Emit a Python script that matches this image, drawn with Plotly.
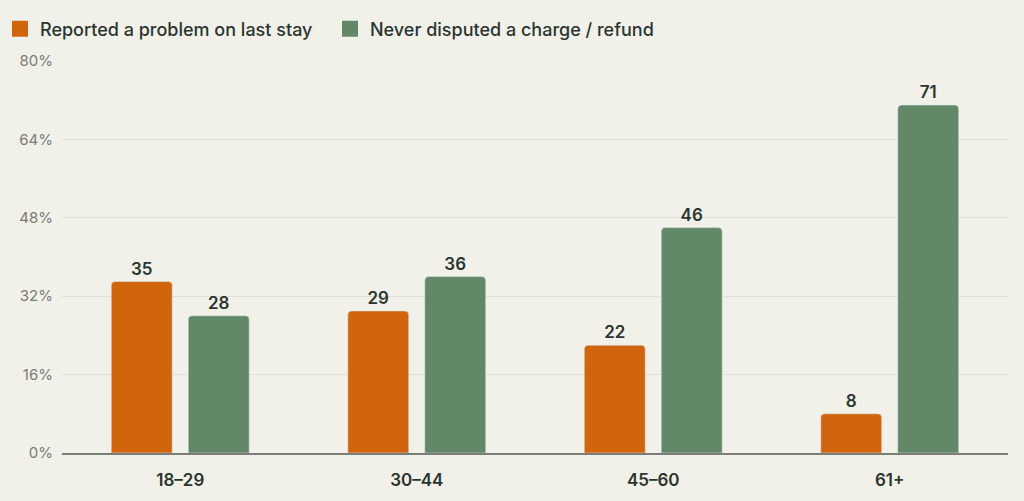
import plotly.graph_objects as go

categories = ["18–29", "30–44", "45–60", "61+"]
reported = [35, 29, 22, 8]
never_disputed = [28, 36, 46, 71]
series_names = ["Reported a problem on last stay", "Never disputed a charge / refund"]
colors = ["#d0650d", "#628867"]
y_ticks = [0, 16, 32, 48, 64, 80]
y_tick_text = [f"{v}%" for v in y_ticks]

label_font = dict(size=17, color="#2b3530", family="Inter", weight=600)

fig = go.Figure()
for name, vals, col in zip(series_names, [reported, never_disputed], colors):
    fig.add_trace(go.Bar(
        x=categories, y=vals, name=name, legendgroup=name, showlegend=False,
        marker=dict(color=col),
        text=vals, textposition="outside", textfont=label_font,
        cliponaxis=False,
    ))
for name, col in zip(series_names, colors):
    fig.add_trace(go.Scatter(
        x=[None], y=[None], mode="markers", name=name, legendgroup=name,
        marker=dict(symbol="square", size=16, color=col),
    ))

fig.update_layout(
    width=1024, height=501,
    margin=dict(l=62, r=16, t=61, b=48),
    paper_bgcolor="#f1f1ea", plot_bgcolor="#f1f1ea",
    font=dict(family="Inter", color="#2b3530"),
    barmode="group", bargap=0.349, bargroupgap=0.208,
    barcornerradius=4,
    legend=dict(orientation="h", xref="container", yref="container",
                x=0.0, xanchor="left", y=1 - 29 / 501, yanchor="middle",
                font=dict(size=18, color="#2b3530", weight=500), itemwidth=30,
                entrywidth=285,
                bgcolor="rgba(0,0,0,0)", traceorder="normal"),
    showlegend=True,
)
fig.update_xaxes(
    tickfont=dict(size=17, color="#2b3530", weight=600), showgrid=False,
    showline=True, linecolor="#7a7d78", linewidth=2, ticks="",
    ticklabelstandoff=11, automargin=False,
)
fig.update_yaxes(
    range=[0, 80], tickvals=y_ticks, ticktext=y_tick_text,
    tickfont=dict(size=15, color="#7a7a76"),
    showgrid=True, gridcolor="#dfdfd7", gridwidth=1,
    zeroline=False, ticklabelstandoff=8, automargin=False,
)

fig.write_html("out.html")
